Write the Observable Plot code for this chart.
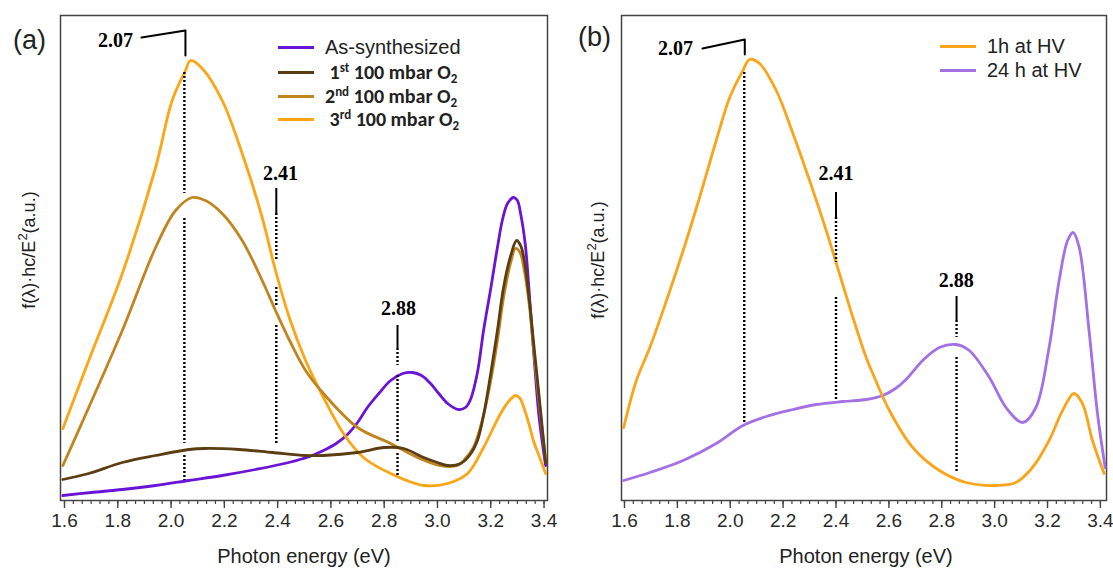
<!DOCTYPE html>
<html><head><meta charset="utf-8">
<script src="https://cdn.jsdelivr.net/npm/d3@7"></script>
<script src="https://cdn.jsdelivr.net/npm/@observablehq/plot@0.6"></script>
<style>
body{margin:0;background:#fff;font-family:"Liberation Sans",Arial,sans-serif;}
#wrap{position:relative;width:1113px;height:569px;overflow:hidden;background:#fff;}
.panel{position:absolute;top:0;}
.abs{position:absolute;white-space:nowrap;color:#222;line-height:1;}
.ylab{font-size:18px;transform:translate(-50%,-50%) rotate(-90deg);}
.ylab sup{font-size:13px;vertical-align:8px;}
.xlab{font-size:20px;transform:translate(-50%,-50%);}
.plab{font-size:27px;transform:translate(0,-50%);}
.leg{font-size:20px;transform:translate(0,-50%);display:flex;align-items:center;}
.leg .sw{display:inline-block;width:36px;height:3px;margin-right:11px;}
.leg.b{font-weight:bold;font-family:"Carlito","Liberation Sans",Arial,sans-serif;font-size:20px;}
.leg sup{font-size:13px;vertical-align:7px;line-height:0;}
.leg sub{font-size:13px;vertical-align:-4px;line-height:0;}
</style></head>
<body><div id="wrap"></div>
<script>
// ---------- Panel (a) data ----------
const asSynthE = [1.594,1.70,1.817,1.942,2.067,2.192,2.317,2.442,2.52,2.572,2.62,2.662,2.70,2.737,2.78,2.824,2.87,2.906,2.94,2.974,3.005,3.038,3.079,3.105,3.124,3.15,3.173,3.20,3.225,3.245,3.263,3.285,3.30,3.312,3.33,3.35,3.365,3.38,3.395,3.406];
const asSynthV = [0.05,0.08,0.11,0.15,0.20,0.25,0.31,0.38,0.44,0.50,0.57,0.66,0.78,0.93,1.07,1.20,1.27,1.28,1.25,1.17,1.07,0.97,0.91,0.93,1.01,1.28,1.70,2.12,2.53,2.82,2.97,3.03,3.00,2.87,2.55,1.87,1.35,0.87,0.55,0.35];

const o2FirstE = [1.594,1.691,1.817,1.942,2.067,2.129,2.254,2.38,2.505,2.572,2.70,2.80,2.873,2.948,3.0,3.038,3.087,3.12,3.15,3.175,3.2,3.225,3.248,3.275,3.297,3.312,3.324,3.345,3.36,3.385,3.406];
const o2FirstV = [0.21,0.27,0.38,0.45,0.51,0.52,0.51,0.48,0.45,0.45,0.48,0.53,0.52,0.43,0.38,0.35,0.37,0.45,0.60,0.88,1.27,1.70,2.13,2.45,2.60,2.55,2.43,2.00,1.60,0.95,0.38];

const o2SecondE = [1.594,1.691,1.817,1.942,2.017,2.079,2.129,2.192,2.267,2.342,2.392,2.445,2.505,2.572,2.70,2.824,2.925,3.01,3.075,3.105,3.135,3.17,3.2,3.225,3.248,3.275,3.293,3.31,3.324,3.345,3.36,3.385,3.406];
const o2SecondV = [0.35,0.93,1.70,2.53,2.90,3.03,3.00,2.87,2.60,2.20,1.90,1.60,1.30,1.07,0.73,0.57,0.43,0.35,0.35,0.42,0.53,0.82,1.20,1.60,2.03,2.38,2.52,2.48,2.33,1.95,1.53,0.90,0.40];

const o2ThirdE = [1.594,1.691,1.817,1.942,2.004,2.054,2.073,2.117,2.192,2.267,2.342,2.392,2.445,2.505,2.572,2.647,2.722,2.824,2.948,3.038,3.113,3.173,3.237,3.27,3.293,3.31,3.324,3.345,3.36,3.385,3.406];
const o2ThirdV = [0.72,1.40,2.27,3.33,4.00,4.30,4.40,4.32,4.00,3.47,2.83,2.30,1.82,1.40,1.03,0.67,0.43,0.27,0.15,0.17,0.27,0.53,0.87,1.00,1.05,1.02,0.93,0.75,0.60,0.42,0.27];

// ---------- Panel (b) data ----------
const hv1hE = [1.597,1.645,1.696,1.759,1.822,1.884,1.947,1.998,2.048,2.073,2.111,2.174,2.237,2.30,2.363,2.413,2.464,2.514,2.539,2.602,2.69,2.791,2.892,3.005,3.08,3.143,3.206,3.257,3.30,3.332,3.37,3.414];
const hv1hV = [0.73,1.20,1.53,2.00,2.50,3.03,3.60,4.03,4.30,4.41,4.37,4.10,3.67,3.20,2.70,2.27,1.83,1.43,1.27,0.90,0.53,0.30,0.18,0.15,0.18,0.33,0.60,0.90,1.07,0.97,0.60,0.27];

const hv24hE = [1.597,1.696,1.822,1.947,2.048,2.136,2.237,2.325,2.426,2.514,2.577,2.625,2.665,2.728,2.791,2.854,2.904,2.98,3.043,3.106,3.156,3.206,3.244,3.276,3.297,3.32,3.357,3.389,3.418];
const hv24hV = [0.20,0.28,0.40,0.57,0.75,0.84,0.91,0.96,0.99,1.01,1.05,1.12,1.21,1.40,1.53,1.56,1.50,1.23,0.93,0.78,0.93,1.53,2.20,2.60,2.68,2.53,1.70,0.87,0.33];

// ---------- series names and colours ----------
const seriesA = ["As-synthesized","1st 100 mbar O2","2nd 100 mbar O2","3rd 100 mbar O2"];
const colorsA = ["#6A14D6","#5B3D12","#C0851E","#FCA515"];
const seriesB = ["1h at HV","24 h at HV"];
const colorsB = ["#FAA41A","#A471E4"];

// ---------- axis ticks ----------
const majorTicks = [1.6,1.8,2.0,2.2,2.4,2.6,2.8,3.0,3.2,3.4];
const minorTicks = d3.range(0, 55).map(i => 1.6 + i * 0.2 / 6).filter(t => t < 3.43);

// ---------- peak annotations ----------
const peakLabelsA = [{t:"2.07",x:1.791,y:4.60},{t:"2.41",x:2.411,y:3.27},{t:"2.88",x:2.854,y:1.92}];
const leaderA = [{x:1.889,y:4.63},{x:2.054,y:4.70},{x:2.054,y:4.45}];
const solidA = [{x:2.395,y1:3.12,y2:2.87},{x:2.85,y1:1.75,y2:1.52}];
const dottedA = [{x:2.05,y1:4.28,y2:3.07},{x:2.05,y1:2.82,y2:0.57},{x:2.05,y1:0.45,y2:0.20},
                 {x:2.395,y1:2.87,y2:2.40},{x:2.395,y1:2.13,y2:1.93},{x:2.395,y1:1.75,y2:0.57},
                 {x:2.85,y1:1.52,y2:1.35},{x:2.85,y1:1.25,y2:0.58},{x:2.85,y1:0.47,y2:0.25}];

const peakLabelsB = [{t:"2.07",x:1.793,y:4.52},{t:"2.41",x:2.40,y:3.27},{t:"2.88",x:2.855,y:2.20}];
const leaderB = [{x:1.895,y:4.52},{x:2.055,y:4.61},{x:2.055,y:4.46}];
const solidB = [{x:2.40,y1:3.08,y2:2.83},{x:2.856,y1:2.04,y2:1.80}];
const dottedB = [{x:2.053,y1:4.28,y2:0.77},
                 {x:2.40,y1:2.83,y2:2.38},{x:2.40,y1:2.03,y2:1.00},
                 {x:2.856,y1:1.80,y2:1.63},{x:2.856,y1:1.43,y2:0.27}];

function rows(name, xs, ys){ return xs.map((x,i)=>({s:name,x,y:ys[i]})); }

function makePanel(o){
  return Plot.plot({
    width:o.width, height:569,
    marginLeft:o.ml, marginRight:o.mr, marginTop:15, marginBottom:69,
    style:{fontFamily:"'Liberation Sans', Arial, sans-serif", fontSize:"19px", color:"#2a2a2a", background:"transparent", overflow:"visible"},
    x:{domain:o.domain},
    y:{domain:[0,4.85], axis:null},
    marks:[
      Plot.axisX({ticks:minorTicks, tickSize:4, tickFormat:()=>"", label:null, stroke:"#444", strokeWidth:1.2}),
      Plot.axisX({ticks:majorTicks, tickSize:8, tickPadding:5, tickFormat:d3.format(".1f"), label:null, stroke:"#444", strokeWidth:1.4, fontSize:19, fill:"#2a2a2a"}),
      Plot.frame({stroke:"#444", strokeWidth:1.5}),
      ...o.lines.map(d => Plot.line(d.data, {x:"x", y:"y", stroke:d.color, strokeWidth:2.8, curve:"catmull-rom"})),
      Plot.ruleX(o.dotted, {x:"x", y1:"y1", y2:"y2", stroke:"#000", strokeWidth:2.4, strokeDasharray:"2,2"}),
      Plot.ruleX(o.solid, {x:"x", y1:"y1", y2:"y2", stroke:"#000", strokeWidth:2}),
      Plot.line(o.leader, {x:"x", y:"y", stroke:"#000", strokeWidth:2}),
      Plot.text(o.labels, {x:"x", y:"y", text:"t", textAnchor:"middle", fontFamily:"'Liberation Serif', 'Times New Roman', serif", fontWeight:"bold", fontSize:20, fill:"#000"})
    ]
  });
}

const wrap = document.getElementById("wrap");

const pa = makePanel({
  width:556, ml:60, mr:9, domain:[1.585, 3.413],
  lines:[
    {data:rows(seriesA[0], asSynthE, asSynthV), color:colorsA[0]},
    {data:rows(seriesA[3], o2ThirdE, o2ThirdV), color:colorsA[3]},
    {data:rows(seriesA[2], o2SecondE, o2SecondV), color:colorsA[2]},
    {data:rows(seriesA[1], o2FirstE, o2FirstV), color:colorsA[1]}
  ],
  dotted:dottedA, solid:solidA, leader:leaderA, labels:peakLabelsA
});
pa.classList.add("panel"); pa.style.left = "0px";
wrap.appendChild(pa);

const pb = makePanel({
  width:557, ml:65, mr:7, domain:[1.5887, 3.4231],
  lines:[
    {data:rows(seriesB[1], hv24hE, hv24hV), color:colorsB[1]},
    {data:rows(seriesB[0], hv1hE, hv1hV), color:colorsB[0]}
  ],
  dotted:dottedB, solid:solidB, leader:leaderB, labels:peakLabelsB
});
pb.classList.add("panel"); pb.style.left = "556px";
wrap.appendChild(pb);

function addText(html, cls, left, top){
  const d = document.createElement("div");
  d.className = "abs " + cls; d.innerHTML = html;
  d.style.left = left + "px"; d.style.top = top + "px";
  wrap.appendChild(d); return d;
}
const yLabel = "f(λ)·hc/E<sup>2</sup>(a.u.)";
addText(yLabel, "ylab", 27, 250);
addText(yLabel, "ylab", 596, 260);
addText("Photon energy (eV)", "xlab", 304, 556);
addText("Photon energy (eV)", "xlab", 866, 556);
addText("(a)", "plab", 13, 40);
addText("(b)", "plab", 578, 37);

// legends
const legA = [
  {html:"As-synthesized", bold:false, top:47},
  {html:"&nbsp;1<sup>st</sup> 100 mbar O<sub>2</sub>", bold:true, top:72},
  {html:"2<sup>nd</sup> 100 mbar O<sub>2</sub>", bold:true, top:96},
  {html:"&nbsp;3<sup>rd</sup> 100 mbar O<sub>2</sub>", bold:true, top:119}
];
legA.forEach((r,i)=>{
  addText(`<span class="sw" style="background:${colorsA[i]}"></span><span>${r.html}</span>`, "leg" + (r.bold?" b":""), 278, r.top);
});
[{t:"1h at HV",top:46},{t:"24 h at HV",top:70}].forEach((r,i)=>{
  addText(`<span class="sw" style="background:${colorsB[i]}"></span><span>${r.t}</span>`, "leg", 940, r.top);
});
</script>
</body></html>
